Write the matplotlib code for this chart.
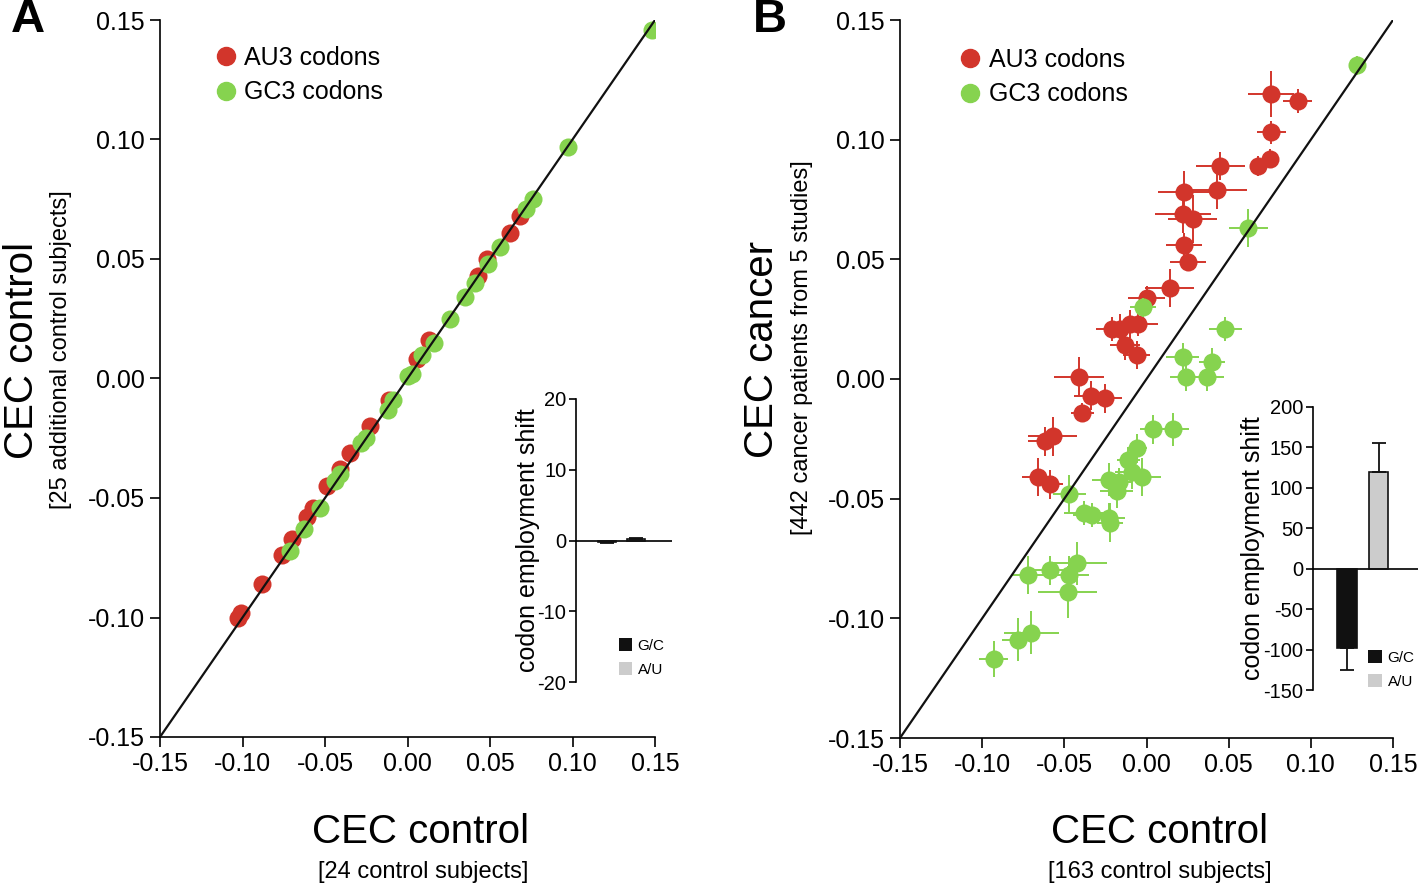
import matplotlib
matplotlib.use('Agg')
import matplotlib.pyplot as plt
from matplotlib.patches import Patch
from matplotlib.lines import Line2D

plt.rcParams['font.family'] = ['Liberation Sans', 'DejaVu Sans']
plt.rcParams['axes.unicode_minus'] = False

RED = '#d2352b'
GREEN = '#86d34f'

# panel A: control vs additional control
a_red_x = [-0.103, -0.101, -0.088, -0.076, -0.070, -0.061, -0.057, -0.049, -0.041, -0.035,
           -0.023, -0.011, 0.006, 0.013, 0.043, 0.048, 0.062, 0.068]
a_red_y = [-0.100, -0.098, -0.086, -0.074, -0.067, -0.058, -0.054, -0.045, -0.038, -0.031,
           -0.020, -0.009, 0.008, 0.016, 0.043, 0.050, 0.061, 0.068]
a_green_x = [0.148, 0.097, 0.076, 0.072, 0.056, 0.049, 0.041, 0.035, 0.026, 0.016, 0.009,
             0.003, 0.000, -0.009, -0.012, -0.025, -0.028, -0.041, -0.044, -0.053, -0.063, -0.071]
a_green_y = [0.146, 0.097, 0.075, 0.071, 0.055, 0.048, 0.040, 0.034, 0.025, 0.015, 0.010,
             0.002, 0.001, -0.009, -0.013, -0.025, -0.027, -0.040, -0.043, -0.054, -0.063, -0.072]

# panel B: control vs cancer
b_red_x = [0.076, 0.092, 0.076, 0.075, 0.068, 0.045, 0.043, 0.023, 0.022, 0.028, 0.023, 0.025,
           0.014, 0.000, -0.021, -0.016, -0.010, -0.005, -0.013, -0.006, -0.041, -0.034, -0.025,
           -0.039, -0.057, -0.062, -0.066, -0.059]
b_red_y = [0.119, 0.116, 0.103, 0.092, 0.089, 0.089, 0.079, 0.078, 0.069, 0.067, 0.056, 0.049,
           0.038, 0.034, 0.021, 0.021, 0.023, 0.023, 0.014, 0.010, 0.001, -0.007, -0.008,
           -0.014, -0.024, -0.026, -0.041, -0.044]
b_red_xerr = [0.014, 0.009, 0.009, 0.004, 0.004, 0.015, 0.018, 0.016, 0.017, 0.015, 0.011, 0.011,
              0.015, 0.011, 0.010, 0.008, 0.008, 0.012, 0.009, 0.008, 0.015, 0.010, 0.010,
              0.007, 0.015, 0.010, 0.010, 0.008]
b_red_yerr = [0.0095, 0.005, 0.005, 0.004, 0.004, 0.006, 0.008, 0.009, 0.008, 0.010, 0.005, 0.004,
              0.008, 0.005, 0.005, 0.006, 0.006, 0.005, 0.006, 0.006, 0.008, 0.006, 0.006,
              0.004, 0.008, 0.006, 0.008, 0.006]

b_green_x = [0.128, 0.062, -0.002, 0.048, 0.022, 0.040, 0.024, 0.037, 0.004, 0.016, -0.006,
             -0.011, -0.023, -0.017, -0.009, -0.003, -0.018, -0.047, -0.038, -0.033, -0.023,
             -0.022, -0.042, -0.059, -0.047, -0.072, -0.048, -0.070, -0.078, -0.093]
b_green_y = [0.131, 0.063, 0.030, 0.021, 0.009, 0.007, 0.001, 0.001, -0.021, -0.021, -0.029,
             -0.034, -0.042, -0.043, -0.039, -0.041, -0.047, -0.048, -0.056, -0.057, -0.058,
             -0.060, -0.077, -0.080, -0.082, -0.082, -0.089, -0.106, -0.109, -0.117]
b_green_xerr = [0.004, 0.012, 0.008, 0.010, 0.010, 0.008, 0.010, 0.010, 0.008, 0.010, 0.006,
                0.007, 0.010, 0.008, 0.010, 0.012, 0.010, 0.010, 0.012, 0.012, 0.010,
                0.008, 0.018, 0.012, 0.012, 0.010, 0.018, 0.017, 0.010, 0.009]
b_green_yerr = [0.004, 0.008, 0.004, 0.005, 0.006, 0.006, 0.006, 0.006, 0.006, 0.007, 0.006,
                0.005, 0.007, 0.006, 0.007, 0.008, 0.007, 0.008, 0.005, 0.005, 0.006,
                0.008, 0.009, 0.006, 0.008, 0.008, 0.011, 0.009, 0.009, 0.0075]

# insets: codon employment shift
bar_labels = ['G/C', 'A/U']
inset_a_vals = [-0.2, 0.25]
inset_a_err = [0.2, 0.15]
inset_b_vals = [-98, 120]
inset_b_err = [27, 35]

ticks = [-0.15, -0.10, -0.05, 0.00, 0.05, 0.10, 0.15]
tick_labels = ['-0.15', '-0.10', '-0.05', '0.00', '0.05', '0.10', '0.15']

W, H = 1418, 886
fig = plt.figure(figsize=(W / 100, H / 100), dpi=100)


def box(l, t, r, b):
    return [l / W, 1 - b / H, (r - l) / W, (b - t) / H]


def style_main(ax):
    ax.set_xlim(-0.15, 0.15)
    ax.set_ylim(-0.15, 0.15)
    ax.set_xticks(ticks)
    ax.set_xticklabels(tick_labels)
    ax.set_yticks(ticks)
    ax.set_yticklabels(tick_labels)
    for s in ['top', 'right']:
        ax.spines[s].set_visible(False)
    for s in ['left', 'bottom']:
        ax.spines[s].set_linewidth(1.2)
    ax.tick_params(direction='out', length=7, width=1.2, labelsize=18, pad=4)
    ax.plot([-0.15, 0.15], [-0.15, 0.15], color='#111111', lw=1.6, zorder=10)


def legend_main(ax, anchor):
    handles = [Line2D([], [], ls='none', marker='o', ms=13, color=RED, label='AU3 codons'),
               Line2D([], [], ls='none', marker='o', ms=13, color=GREEN, label='GC3 codons')]
    ax.legend(handles=handles, loc='upper left', bbox_to_anchor=anchor, frameon=False,
              fontsize=18, handletextpad=0.15, labelspacing=0.42, borderaxespad=0,
              handlelength=1.2)


def inset(rect, vals, errs, ylim, yticks, lpad, leg_anchor):
    ax = fig.add_axes(rect)
    pos = [1.04, 2.0]
    colors = ['#111111', '#cccccc']
    for p, v, e, c, lab in zip(pos, vals, errs, colors, bar_labels):
        ax.bar(p, v, width=0.6, color=c, edgecolor='#111111', linewidth=1.2, label=lab)
        if v < 0:
            yerr = [[e], [0]]
        else:
            yerr = [[0], [e]]
        ax.errorbar(p, v, yerr=yerr, color='#111111', lw=1.3, capsize=5, capthick=1.3)
    ax.axhline(0, color='#111111', lw=1.3)
    ax.set_xlim(0, 3.2)
    ax.set_ylim(*ylim)
    ax.set_yticks(yticks)
    ax.set_xticks([])
    for s in ['top', 'right', 'bottom']:
        ax.spines[s].set_visible(False)
    ax.spines['left'].set_linewidth(1.2)
    ax.tick_params(axis='y', direction='out', length=5, width=1.2, labelsize=14.5, pad=2)
    ax.set_ylabel('codon employment shift', fontsize=18, labelpad=lpad)
    ax.patch.set_alpha(0)
    handles = [Patch(facecolor='#111111', edgecolor='none', label='G/C'),
               Patch(facecolor='#cccccc', edgecolor='none', label='A/U')]
    ax.legend(handles=handles, loc='lower left', bbox_to_anchor=leg_anchor, frameon=False,
              fontsize=11, handlelength=0.9, handleheight=0.9, handletextpad=0.35,
              labelspacing=0.6, borderaxespad=0)
    return ax


# panel A
axA = fig.add_axes(box(160, 20, 655, 737))
style_main(axA)
axA.plot(a_red_x, a_red_y, 'o', ms=13, color=RED, mec='none', zorder=3)
axA.plot(a_green_x, a_green_y, 'o', ms=13, color=GREEN, mec='none', zorder=4)
legend_main(axA, (0.082, 0.978))

# panel B
axB = fig.add_axes(box(900, 20, 1393, 738))
style_main(axB)
axB.errorbar(b_red_x, b_red_y, xerr=b_red_xerr, yerr=b_red_yerr, fmt='o', ms=13,
             color=RED, mec='none', elinewidth=1.4, capsize=0, zorder=3)
axB.errorbar(b_green_x, b_green_y, xerr=b_green_xerr, yerr=b_green_yerr, fmt='o', ms=13,
             color=GREEN, mec='none', elinewidth=1.4, capsize=0, zorder=4)
legend_main(axB, (0.092, 0.975))

inset(box(576, 399, 672, 682), inset_a_vals, inset_a_err, (-20, 20), [-20, -10, 0, 10, 20],
      -2, (0.38, -0.003))
inset(box(1313, 407, 1418, 690), inset_b_vals, inset_b_err, (-150, 200),
      [-150, -100, -50, 0, 50, 100, 150, 200], -1, (0.47, -0.017))

# axis titles
fig.text(22 / W, 1 - 350 / H, 'CEC control', rotation=90, fontsize=29, ha='center', va='center')
fig.text(61 / W, 1 - 350 / H, '[25 additional control subjects]', rotation=90, fontsize=17,
         ha='center', va='center')
fig.text(762 / W, 1 - 350 / H, 'CEC cancer', rotation=90, fontsize=29, ha='center', va='center')
fig.text(802 / W, 1 - 348 / H, '[442 cancer patients from 5 studies]', rotation=90, fontsize=17,
         ha='center', va='center')
fig.text(421 / W, 1 - 832 / H, 'CEC control', fontsize=29, ha='center', va='center')
fig.text(423 / W, 1 - 872 / H, '[24 control subjects]', fontsize=17, ha='center', va='center')
fig.text(1160 / W, 1 - 832 / H, 'CEC control', fontsize=29, ha='center', va='center')
fig.text(1160 / W, 1 - 872 / H, '[163 control subjects]', fontsize=17, ha='center', va='center')

fig.text(28 / W, 1 - 20 / H, 'A', fontsize=34, fontweight='bold', ha='center', va='center')
fig.text(770 / W, 1 - 20 / H, 'B', fontsize=34, fontweight='bold', ha='center', va='center')

fig.savefig('out.png', dpi=100)
